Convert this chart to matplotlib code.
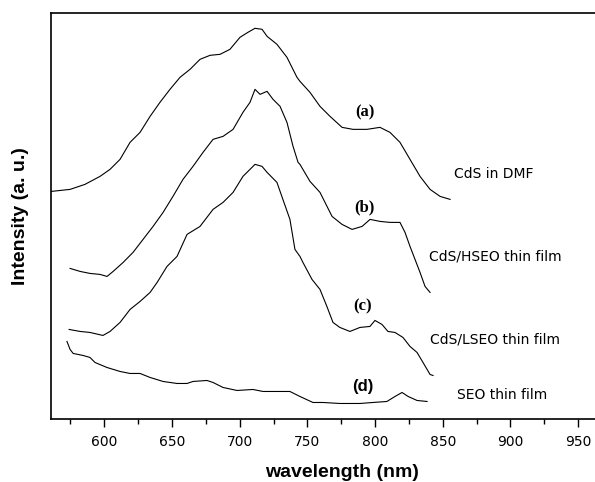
import numpy as np
import matplotlib.pyplot as plt
from matplotlib.ticker import MultipleLocator, NullLocator

# emission spectra, wavelength (nm) vs intensity (a. u.)
wl_a = [561, 574.7, 585.7, 596.8, 604.2, 611.6, 619.0, 626.4, 633.8, 641.1,
        648.5, 655.9, 663.3, 670.7, 678.1, 685.5, 692.8, 700.2, 706.1, 711.3,
        716.5, 720.2, 727.5, 734.9, 742.3, 744.5, 751.9, 759.3, 766.7, 775.6,
        783.7, 794.0, 803.6, 811.0, 818.4, 825.8, 833.2, 840.6, 848.0, 855.4]
int_a = [228, 230, 235, 243, 250, 260, 277, 287, 303, 317,
         330, 342, 350, 360, 364, 365, 370, 382, 387, 391,
         390, 383, 375, 362, 342, 338, 327, 313, 303, 292,
         290, 290, 292, 287, 277, 260, 243, 230, 223, 220]

wl_b = [574.7, 582.1, 589.4, 596.8, 602.0, 606.5, 613.9, 621.2, 628.6, 636.0,
        643.4, 650.7, 658.1, 665.5, 672.9, 680.3, 687.7, 695.1, 702.4, 707.6,
        711.3, 715.0, 720.2, 724.6, 729.8, 734.9, 739.4, 743.1, 744.5, 751.9,
        759.3, 768.2, 775.6, 783.0, 790.4, 796.3, 803.6, 811.0, 818.4, 822.1,
        825.8, 829.5, 833.2, 836.9, 840.6]
int_b = [151, 148, 146, 145, 143, 148, 157, 167, 180, 193,
         207, 223, 240, 253, 267, 280, 283, 290, 307, 317,
         330, 325, 328, 320, 313, 297, 273, 257, 255, 238,
         227, 203, 195, 190, 193, 200, 198, 197, 197, 187,
         173, 160, 147, 133, 127]

wl_c = [574.0, 582.1, 589.4, 599.0, 604.2, 611.6, 619.0, 626.4, 633.8, 639.0,
        646.3, 653.7, 661.1, 670.7, 680.3, 687.7, 695.1, 702.4, 707.6, 711.3,
        716.5, 720.2, 727.5, 731.9, 737.1, 740.8, 744.5, 746.7, 753.4, 759.3,
        764.4, 768.9, 774.0, 781.4, 788.8, 796.2, 799.9, 805.1, 809.5, 814.7,
        820.6, 825.8, 831.0, 835.4, 840.6, 842.8]
int_c = [90, 88, 87, 84, 88, 97, 110, 118, 127, 137,
         153, 163, 185, 193, 210, 217, 227, 243, 250, 255,
         253, 247, 237, 220, 200, 170, 163, 157, 140, 130,
         113, 97, 92, 88, 92, 93, 99, 95, 88, 87,
         82, 73, 67, 57, 45, 44]

wl_d = [572.4, 574.7, 577.0, 584.3, 589.4, 593.1, 601.9, 611.6, 619.0, 626.4,
        633.8, 643.4, 653.7, 661.1, 665.5, 675.8, 680.3, 687.7, 698.0, 709.8,
        717.2, 727.5, 737.1, 744.5, 754.1, 761.5, 774.0, 788.8, 798.4, 808.7,
        814.7, 819.9, 824.4, 831.0, 838.4]
int_d = [78, 70, 66, 64, 62, 57, 52, 48, 46, 46,
         42, 38, 36, 36, 38, 39, 37, 32, 29, 30,
         28, 28, 28, 23, 17, 17, 16, 16, 17, 18,
         23, 27, 23, 19, 18]

letters = ["(a)", "(b)", "(c)", "(d)"]
letter_pos = [(792.5, 307), (792.5, 212), (791, 113), (791, 33)]
names = ["CdS in DMF", "CdS/HSEO thin film", "CdS/LSEO thin film", "SEO thin film"]
name_pos = [(858.3, 245), (839.9, 163), (840.6, 80), (860.5, 24)]

fig = plt.figure(figsize=(5.95, 4.82), dpi=100)
ax = fig.add_axes([0.0857, 0.1297, 0.977, 0.8427])

for wl, inten in [(wl_a, int_a), (wl_b, int_b), (wl_c, int_c), (wl_d, int_d)]:
    ax.plot(wl, inten, color="black", lw=0.8)

for s, (x, y) in zip(letters, letter_pos):
    fam = "Liberation Serif" if s != "(d)" else "Liberation Sans"
    ax.text(x, y, s, family=fam, fontweight="bold", fontsize=12,
            ha="center", va="center")

for s, (x, y) in zip(names, name_pos):
    ax.text(x, y, s, family="DejaVu Sans", fontsize=10, ha="left", va="center")

ax.set_xlim(560.6, 990)
ax.set_ylim(0, 406)
ax.xaxis.set_major_locator(MultipleLocator(50))
ax.xaxis.set_minor_locator(MultipleLocator(25))
ax.yaxis.set_major_locator(NullLocator())
ax.spines["right"].set_visible(False)
for sp in ["left", "top", "bottom"]:
    ax.spines[sp].set_linewidth(1.2)
ax.tick_params(axis="x", which="major", length=6, width=1, pad=5, labelsize=10)
ax.tick_params(axis="x", which="minor", length=3.6, width=1)
for lab in ax.get_xticklabels():
    lab.set_family("DejaVu Sans")

ax.set_xlabel("wavelength (nm)", family="Liberation Sans", fontweight="bold",
              fontsize=14, va="center")
ax.xaxis.set_label_coords(0.5, -0.1317)
ax.set_ylabel("Intensity (a. u.)", family="Liberation Sans", fontweight="bold",
              fontsize=14, va="center", ha="center")
ax.yaxis.set_label_coords(-0.0516, 0.5)

fig.savefig("out.png", dpi=100)
